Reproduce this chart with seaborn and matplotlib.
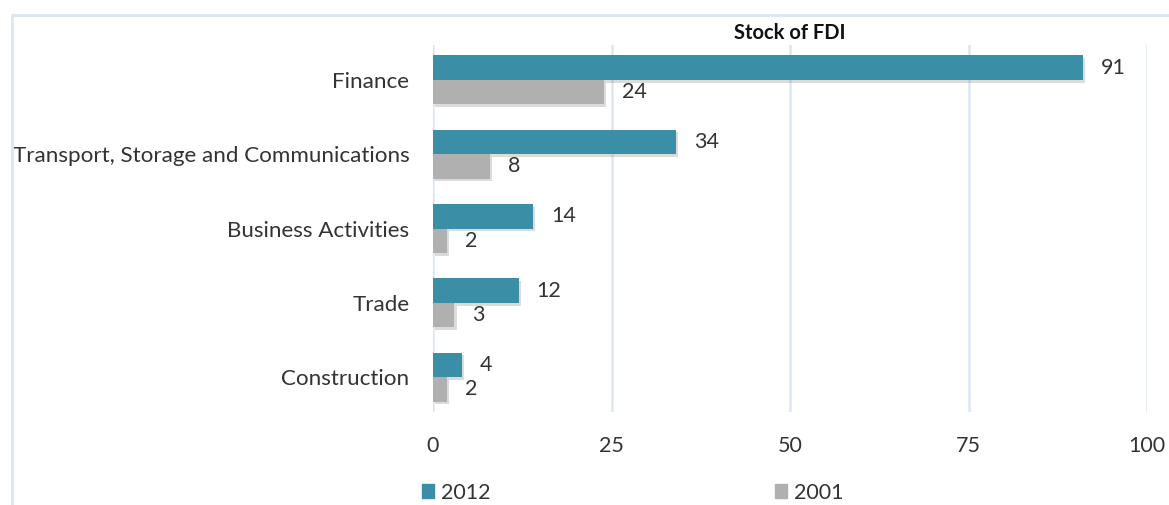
import matplotlib
matplotlib.use("Agg")
import matplotlib.pyplot as plt
import matplotlib.patheffects as pe
from matplotlib.lines import Line2D
from matplotlib.patches import Patch
import seaborn as sns
import pandas as pd

# === Datos ===
sectores = ["Finance", "Transport, Storage and Communications",
            "Business Activities", "Trade", "Construction"]
anios = ["2012", "2001"]
valores_2012 = [91, 34, 14, 12, 4]
valores_2001 = [24, 8, 2, 3, 2]
ticks_x = [0, 25, 50, 75, 100]

colores = {"2012": "#3A8EA5", "2001": "#B0B0B0"}

df = pd.DataFrame({
    "sector": sectores * 2,
    "anio": ["2012"] * len(sectores) + ["2001"] * len(sectores),
    "valor": valores_2012 + valores_2001,
})

sns.set_style("white")
plt.rcParams["font.family"] = ["Lato", "DejaVu Sans"]

fig = plt.figure(figsize=(11.69, 5.05), dpi=100)
ax = fig.add_axes([0.3704, 0.184, 0.6108, 0.727])

sns.barplot(data=df, y="sector", x="valor", hue="anio", hue_order=anios,
            order=sectores, palette=colores, width=0.66, orient="h",
            saturation=1, legend=False, linewidth=0, ax=ax)

sombra = [pe.SimplePatchShadow(offset=(1.5, -2), shadow_rgbFace="#888888", alpha=0.3),
          pe.Normal()]
for p in ax.patches:
    p.set_path_effects(sombra)

for cont in ax.containers:
    ax.bar_label(cont, fmt="%d", padding=13, fontsize=15.5, color="#333333")

ax.set_xlim(0, 100)
ax.set_ylim(4.47, -0.47)
ax.set_xticks(ticks_x)
ax.xaxis.grid(True, color="#DCE6F2", linewidth=1.8)
ax.set_axisbelow(True)
for s in ax.spines.values():
    s.set_visible(False)
ax.tick_params(axis="x", length=0, pad=17, labelsize=15.5, labelcolor="#333333")
ax.tick_params(axis="y", length=0, pad=17, labelsize=16.1, labelcolor="#333333")
ax.set_xlabel("")
ax.set_ylabel("")

fig.text(0.676, 0.935, "Stock of FDI", ha="center", va="center",
         fontsize=14.5, fontweight="bold", color="#111111")

handles = [Patch(color=colores[a]) for a in anios]
fig.legend(handles, anios, loc="center left", bbox_to_anchor=(0.344, 0.024),
           ncol=2, frameon=False, fontsize=15.5, handlelength=0.6, handleheight=0.6,
           handletextpad=0.3, columnspacing=13.2, labelcolor="#333333")

# marco exterior
fig.add_artist(Line2D([12 / 1169, 1], [1 - 15 / 505, 1 - 15 / 505],
                      transform=fig.transFigure, color="#DAE6F3", linewidth=2))
fig.add_artist(Line2D([12 / 1169, 12 / 1169], [0, 1 - 15 / 505],
                      transform=fig.transFigure, color="#DAE6F3", linewidth=2))

fig.savefig("out.png", dpi=100)
